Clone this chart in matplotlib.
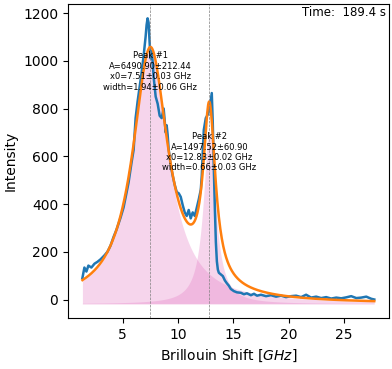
import numpy as np
import matplotlib
matplotlib.use('Agg')
import matplotlib.pyplot as plt

shift = [1.38, 1.56, 1.74, 1.92, 2.19, 2.47, 2.74, 3.01, 3.37, 3.64, 3.91, 4.19,
         4.46, 4.82, 5.09, 5.36, 5.54, 5.81, 6.00, 6.18, 6.36, 6.54, 6.72, 6.90,
         7.08, 7.17, 7.26, 7.35, 7.44, 7.53, 7.62, 7.71, 7.81, 7.99, 8.17, 8.35,
         8.53, 8.71, 8.89, 8.98, 9.07, 9.16, 9.34, 9.52, 9.71, 9.89, 10.07, 10.25,
         10.43, 10.61, 10.79, 10.97, 11.15, 11.33, 11.52, 11.70, 11.88, 12.06, 12.15,
         12.24, 12.33, 12.51, 12.69, 12.87, 13.05, 13.14, 13.24, 13.33, 13.42, 13.51,
         13.60, 13.69, 13.87, 14.05, 14.23, 14.41, 14.59, 14.77, 15.05, 15.32, 15.68,
         15.95, 16.22, 16.58, 16.86, 17.13, 17.49, 17.94, 18.39, 18.85, 19.30, 19.75,
         20.20, 20.66, 21.11, 21.56, 22.01, 22.47, 22.92, 23.37, 23.82, 24.28, 24.73,
         25.18, 25.63, 26.09, 26.54, 26.99, 27.44, 27.71]
intensity = [90, 134, 117, 142, 134, 150, 158, 168, 185, 200, 225, 262,
             293, 343, 385, 447, 489, 573, 627, 760, 830, 890, 950, 1020,
             1100, 1150, 1178, 1160, 1080, 1010, 1040, 1000, 930, 850, 820, 770,
             760, 800, 700, 730, 690, 630, 565, 520, 480, 450, 445, 430,
             395, 365, 350, 375, 340, 365, 350, 385, 420, 460, 520,
             620, 710, 760, 775, 800, 865, 740, 540, 380, 240, 160,
             125, 112, 105, 98, 80, 68, 58, 44, 35, 30, 28,
             22, 26, 18, 24, 16, 20, 14, 18, 12, 16, 10,
             14, 16, 10, 20, 8, 12, 6, 10, 4, 8, 5,
             9, 14, 6, 8, 12, 3, 0]

# fit parameters shown in the annotations
amps = [6490.90, 1497.52]
amp_err = [212.44, 60.90]
centers = [7.51, 12.83]
center_err = [0.03, 0.02]
widths = [1.94, 0.66]
width_err = [0.06, 0.03]
offset = -18
label_y = [955, 617]
time_s = 189.4


def lorentz(x, a, x0, w):
    return a / np.pi * w / ((x - x0) ** 2 + w ** 2)


xf = np.linspace(shift[0], shift[-1], 600)
peaks = [lorentz(xf, a, c, w) for a, c, w in zip(amps, centers, widths)]
fit = offset + sum(peaks)

fig, ax = plt.subplots(figsize=(3.92, 3.69), dpi=100)
fig.subplots_adjust(left=0.173, right=0.992, bottom=0.138, top=0.989)

for p in peaks:
    ax.fill_between(xf, offset, offset + p, color='tab:pink', alpha=0.3, lw=0)

ax.plot(shift, intensity, color='tab:blue', lw=1.8)
ax.plot(xf, fit, color='tab:orange', lw=1.8)

for i in range(len(centers)):
    ax.axvline(centers[i], color='gray', ls='--', lw=0.5)
    txt = "Peak #%d\nA=%.2f±%.2f\nx0=%.2f±%.2f GHz\nwidth=%.2f±%.2f GHz" % (
        i + 1, amps[i], amp_err[i], centers[i], center_err[i], widths[i], width_err[i])
    ax.text(centers[i], label_y[i], txt, ha='center', va='center', fontsize=6)

ax.text(0.99, 0.995, "Time:  %.1f s" % time_s, transform=ax.transAxes,
        ha='right', va='top', fontsize=8.5)

ax.set_xlabel("Brillouin Shift [$GHz$]")
ax.set_ylabel("Intensity")

plt.savefig('out.png')
